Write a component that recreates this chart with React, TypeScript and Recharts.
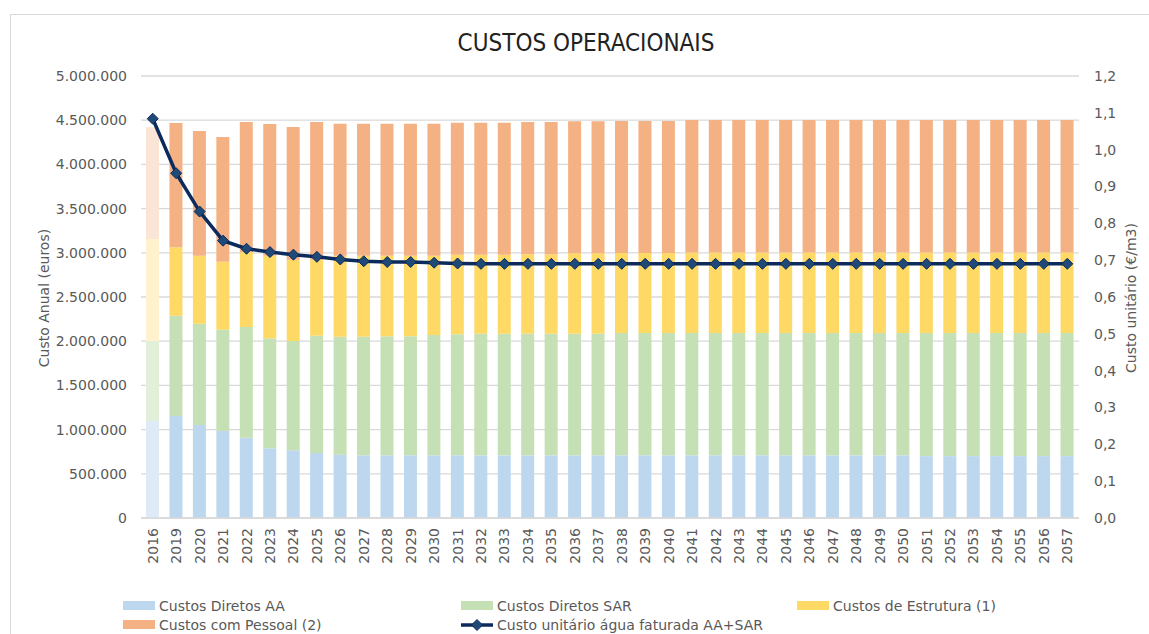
import React from "react"
import {
  ComposedChart,
  Bar,
  Line,
  XAxis,
  YAxis,
  CartesianGrid,
  Cell,
} from "recharts"

const YEARS = [
  "2016", "2019", "2020", "2021", "2022", "2023", "2024", "2025", "2026", "2027",
  "2028", "2029", "2030", "2031", "2032", "2033", "2034", "2035", "2036", "2037",
  "2038", "2039", "2040", "2041", "2042", "2043", "2044", "2045", "2046", "2047",
  "2048", "2049", "2050", "2051", "2052", "2053", "2054", "2055", "2056", "2057",
]

// custos em euros
const DIRETOS_AA = [
  1097000, 1154000, 1052000, 984000, 909000, 788000, 766000, 735000, 716000, 709000,
  709000, 709000, 709000, 709000, 709000, 709000, 709000, 709000, 709000, 709000,
  709000, 709000, 709000, 709000, 709000, 709000, 709000, 709000, 709000, 709000,
  709000, 709000, 709000, 700000, 700000, 700000, 700000, 700000, 700000, 700000,
]
const DIRETOS_SAR = [
  905000, 1134000, 1146000, 1146000, 1252000, 1245000, 1236000, 1327000, 1335000, 1342000,
  1346000, 1346000, 1361000, 1369000, 1376000, 1376000, 1376000, 1376000, 1376000, 1376000,
  1384000, 1384000, 1384000, 1384000, 1384000, 1384000, 1384000, 1384000, 1384000, 1384000,
  1384000, 1384000, 1384000, 1393000, 1393000, 1393000, 1393000, 1393000, 1393000, 1393000,
]
const ESTRUTURA = [
  1154000, 774000, 769000, 770000, 845000, 934000, 920000, 860000, 916000, 916000,
  912000, 912000, 897000, 901000, 894000, 894000, 900000, 900000, 909000, 909000,
  905000, 905000, 905000, 909000, 909000, 909000, 909000, 909000, 909000, 909000,
  909000, 909000, 909000, 909000, 909000, 909000, 909000, 909000, 909000, 909000,
]
const PESSOAL = [
  1263000, 1406000, 1411000, 1410000, 1474000, 1490000, 1501000, 1558000, 1493000, 1493000,
  1493000, 1493000, 1493000, 1493000, 1493000, 1493000, 1495000, 1495000, 1493000, 1493000,
  1493000, 1493000, 1493000, 1500000, 1500000, 1500000, 1500000, 1500000, 1500000, 1500000,
  1500000, 1500000, 1500000, 1500000, 1500000, 1500000, 1500000, 1500000, 1500000, 1500000,
]
// €/m3
const CUSTO_UNITARIO = [
  1.084, 0.936, 0.832, 0.753, 0.731, 0.722, 0.715, 0.709, 0.702, 0.697,
  0.695, 0.695, 0.693, 0.691, 0.690, 0.690, 0.690, 0.690, 0.690, 0.690,
  0.690, 0.690, 0.690, 0.690, 0.690, 0.690, 0.690, 0.690, 0.690, 0.690,
  0.690, 0.690, 0.690, 0.690, 0.690, 0.690, 0.690, 0.690, 0.690, 0.690,
]

const LEFT_TICKS = [0, 500000, 1000000, 1500000, 2000000, 2500000, 3000000, 3500000, 4000000, 4500000, 5000000]
const RIGHT_TICKS = [0, 0.1, 0.2, 0.3, 0.4, 0.5, 0.6, 0.7, 0.8, 0.9, 1.0, 1.1, 1.2]

const data = YEARS.map((year, i) => ({
  year,
  aa: DIRETOS_AA[i],
  sar: DIRETOS_SAR[i],
  estrutura: ESTRUTURA[i],
  pessoal: PESSOAL[i],
  unitario: CUSTO_UNITARIO[i],
}))

const FONT = "'DejaVu Sans', sans-serif"
const TEXT = "#595959"
const GRID = "#d9d9d9"
const NAVY = "#0c2a5c"
const MARKER = "#1f4a78"

const SERIES = [
  { key: "aa", name: "Custos Diretos AA", color: "#bdd7ee", faded: "#deebf7" },
  { key: "sar", name: "Custos Diretos SAR", color: "#c5e0b4", faded: "#e2f0d9" },
  { key: "estrutura", name: "Custos de Estrutura (1)", color: "#ffd966", faded: "#fff2cc" },
  { key: "pessoal", name: "Custos com Pessoal (2)", color: "#f4b183", faded: "#fbe5d6" },
]

const fmtEuros = (v: number) => String(v).replace(/\B(?=(\d{3})+(?!\d))/g, ".")
const fmtUnit = (v: number) => v.toFixed(1).replace(".", ",")

const YearTick = ({ x, y, payload }: { x?: number; y?: number; payload?: { value: string } }) => (
  <g transform={`translate(${x},${(y ?? 0) + 8})`}>
    <text
      x={0}
      y={0}
      dy={5}
      transform="rotate(-90)"
      textAnchor="end"
      fill={TEXT}
      fontSize={14}
      fontFamily={FONT}
    >
      {payload?.value}
    </text>
  </g>
)

const Diamond = ({ cx, cy, index }: { cx?: number; cy?: number; index?: number }) => {
  if (cx == null || cy == null) return <g key={index} />
  const r = 5.5
  return (
    <path
      key={index}
      d={`M${cx},${cy - r} L${cx + r},${cy} L${cx},${cy + r} L${cx - r},${cy} Z`}
      fill={MARKER}
      stroke={NAVY}
      strokeWidth={1}
    />
  )
}

const LegendItem = ({ label, color, line }: { label: string; color?: string; line?: boolean }) => (
  <div style={{ display: "flex", alignItems: "center", height: 19 }}>
    {line ? (
      <svg width={32} height={12} style={{ marginRight: 4 }}>
        <line x1={0} y1={6} x2={32} y2={6} stroke={NAVY} strokeWidth={3.5} />
        <path d="M16,0.5 L21.5,6 L16,11.5 L10.5,6 Z" fill={MARKER} stroke={NAVY} strokeWidth={1} />
      </svg>
    ) : (
      <div style={{ width: 32, height: 9, background: color, marginRight: 4 }} />
    )}
    <span>{label}</span>
  </div>
)

export default function App() {
  return (
    <div
      style={{
        position: "absolute",
        left: 0,
        top: 0,
        width: 1149,
        height: 634,
        background: "#fff",
        overflow: "hidden",
        fontFamily: FONT,
      }}
    >
      <div
        style={{
          position: "absolute",
          left: 10,
          top: 14,
          right: -2,
          bottom: -2,
          borderLeft: `1px solid ${GRID}`,
          borderTop: `1px solid ${GRID}`,
        }}
      />
      <div
        style={{
          position: "absolute",
          left: 586,
          top: 29,
          transform: "translateX(-50%)",
          fontFamily: "'Liberation Sans Narrow', 'DejaVu Sans Condensed', sans-serif",
          fontSize: 24,
          color: "#222",
          whiteSpace: "nowrap",
        }}
      >
        CUSTOS OPERACIONAIS
      </div>

      <div style={{ position: "absolute", left: 0, top: 0 }}>
        <ComposedChart
          width={1149}
          height={580}
          data={data}
          margin={{ top: 76, right: 0, bottom: 12, left: 0 }}
        >
          <CartesianGrid yAxisId="left" vertical={false} stroke={GRID} strokeWidth={1.3} />
          <XAxis
            dataKey="year"
            interval={0}
            tickLine={false}
            tickSize={0}
            height={50}
            axisLine={{ stroke: GRID, strokeWidth: 1.3 }}
            tick={<YearTick />}
          />
          <YAxis
            yAxisId="left"
            domain={[0, 5000000]}
            ticks={LEFT_TICKS}
            width={141}
            tickLine={false}
            axisLine={false}
            tickSize={0}
            tickMargin={14}
            tickFormatter={fmtEuros}
            tick={{ fill: TEXT, fontSize: 14, fontFamily: FONT }}
          />
          <YAxis
            yAxisId="right"
            orientation="right"
            domain={[0, 1.2]}
            ticks={RIGHT_TICKS}
            width={70}
            tickLine={false}
            axisLine={false}
            tickSize={0}
            tickMargin={15}
            tickFormatter={fmtUnit}
            tick={{ fill: TEXT, fontSize: 14, fontFamily: FONT, textAnchor: "start" }}
          />
          {SERIES.map((s) => (
            <Bar
              key={s.key}
              dataKey={s.key}
              name={s.name}
              stackId="custos"
              yAxisId="left"
              barSize={13}
              fill={s.color}
              isAnimationActive={false}
            >
              {data.map((_, i) => (
                <Cell key={`c-${s.key}-${i}`} fill={i === 0 ? s.faded : s.color} />
              ))}
            </Bar>
          ))}
          <Line
            dataKey="unitario"
            name="Custo unitário água faturada AA+SAR"
            yAxisId="right"
            type="linear"
            stroke={NAVY}
            strokeWidth={3.5}
            dot={<Diamond />}
            activeDot={false}
            isAnimationActive={false}
          />
        </ComposedChart>
      </div>

      <div
        style={{
          position: "absolute",
          left: 44,
          top: 298,
          transform: "translate(-50%, -50%) rotate(-90deg)",
          fontSize: 14,
          color: TEXT,
          whiteSpace: "nowrap",
        }}
      >
        Custo Anual (euros)
      </div>
      <div
        style={{
          position: "absolute",
          left: 1131,
          top: 298,
          transform: "translate(-50%, -50%) rotate(-90deg)",
          fontSize: 14,
          color: TEXT,
          whiteSpace: "nowrap",
        }}
      >
        Custo unitário (€/m3)
      </div>

      <div
        style={{
          position: "absolute",
          left: 123,
          top: 596,
          display: "grid",
          gridTemplateColumns: "338px 336px 300px",
          fontSize: 14,
          color: TEXT,
        }}
      >
        <LegendItem label={SERIES[0].name} color={SERIES[0].color} />
        <LegendItem label={SERIES[1].name} color={SERIES[1].color} />
        <LegendItem label={SERIES[2].name} color={SERIES[2].color} />
        <LegendItem label={SERIES[3].name} color={SERIES[3].color} />
        <LegendItem label="Custo unitário água faturada AA+SAR" line />
      </div>
    </div>
  )
}
